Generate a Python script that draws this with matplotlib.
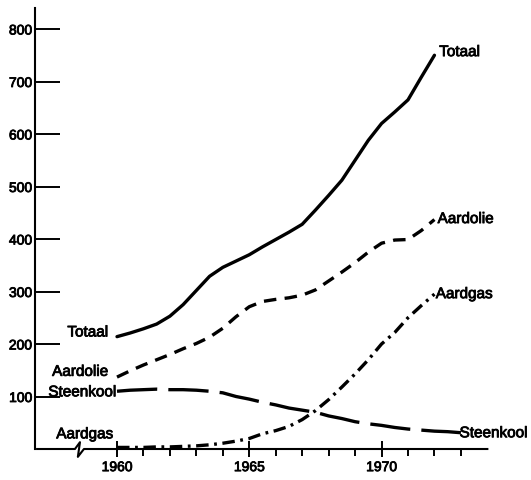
import numpy as np
import matplotlib
matplotlib.use("Agg")
import matplotlib.pyplot as plt
import matplotlib.patheffects as pe
from matplotlib.ticker import FixedLocator

plt.rcParams["font.family"] = ["Liberation Sans", "DejaVu Sans"]
plt.rcParams["lines.scale_dashes"] = False

# ---- data (half-year steps) ---------------------------------------------
years = [1960.0, 1960.5, 1961.0, 1961.5, 1962.0, 1962.5, 1963.0, 1963.5,
         1964.0, 1964.5, 1965.0, 1965.5, 1966.0, 1966.5, 1967.0, 1967.5,
         1968.0, 1968.5, 1969.0, 1969.5, 1970.0, 1970.5, 1971.0, 1971.5,
         1972.0]
totaal = [214, 221, 229, 238, 253, 275, 302, 329, 346, 358, 370, 385, 399,
          413, 428, 455, 483, 512, 550, 588, 620, 642, 665, 708, 750]
aardolie = [137, 149, 160, 170, 180, 191, 201, 213, 230, 252, 271, 281, 285,
            288, 293, 303, 320, 337, 355, 375, 392, 398, 399, 416, 437]
aardgas = [3, 3, 3, 4, 4, 5, 6, 8, 11, 15, 20, 29, 35, 43, 56, 73, 94, 118,
           143, 170, 200, 222, 250, 273, 295]

steen_years = years + [1972.5, 1973.0]
steenkool = [110, 112, 113, 114, 113, 113, 112, 110, 107, 100, 95, 89, 84,
             78, 74, 70, 63, 58, 52, 48, 45, 41, 38, 36, 34, 33, 31]

yticks = [100, 200, 300, 400, 500, 600, 700, 800]
xmajor = [1960, 1965, 1970]
xminor = [1961, 1962, 1963, 1964, 1966, 1967, 1968, 1969, 1971, 1972, 1973]

# heavier "printed" look for the regular-weight text
heavy = [pe.withStroke(linewidth=0.6, foreground="black")]

fig = plt.figure(figsize=(5.31, 4.81), dpi=100)
ax = fig.add_axes([35 / 531, 31 / 481, 455 / 531, 441 / 481])
ax.set_xlim(1956.9, 1974.1)
ax.set_ylim(0, 840)

lw = 2.4
ax.plot(years, totaal, color="black", lw=lw, solid_capstyle="round",
        solid_joinstyle="round")
ax.plot(years, aardolie, color="black", lw=lw, dashes=(9, 6))
ax.plot(steen_years, steenkool, color="black", lw=lw, dashes=(29, 8))
ax.plot(years, aardgas, color="black", lw=lw, dashes=(9, 4, 2, 4))

# line labels
fs = 11
left = [("Totaal", 1959.66, 222), ("Aardolie", 1959.66, 147),
        ("Steenkool", 1959.96, 108), ("Aardgas", 1959.85, 28)]
right = [("Totaal", 1972.18, 756), ("Aardolie", 1972.12, 438),
         ("Aardgas", 1972.05, 295), ("Steenkool", 1972.95, 30)]
for txt, x, y in left:
    ax.text(x, y, txt, ha="right", va="center", fontsize=fs,
            path_effects=heavy)
for txt, x, y in right:
    ax.text(x, y, txt, ha="left", va="center", fontsize=fs,
            path_effects=heavy)

# spines: left kept, bottom drawn by hand with a break mark
for s in ("top", "right", "bottom"):
    ax.spines[s].set_visible(False)
ax.spines["left"].set_linewidth(1.5)
ax.spines["left"].set_bounds(0, 840)

axis_x = [1956.98, 1958.41, 1958.6, 1958.52, 1958.75, 1974.0]
axis_y = [0, 0, 13, -15, 0, 0]
ax.plot(axis_x, axis_y, color="black", lw=1.5, clip_on=False)

ax.yaxis.set_major_locator(FixedLocator(yticks))
ax.tick_params(axis="y", direction="in", length=18, width=1.4,
               pad=2, labelsize=10)

ax.xaxis.set_major_locator(FixedLocator(xmajor))
ax.xaxis.set_minor_locator(FixedLocator(xminor))
ax.tick_params(axis="x", which="major", direction="inout", length=12,
               width=1.4, pad=2, labelsize=10)
ax.tick_params(axis="x", which="minor", direction="out", length=5,
               width=1.4)
for lab in ax.get_xticklabels() + ax.get_yticklabels():
    lab.set_path_effects(heavy)

fig.savefig("out.png", dpi=100)
